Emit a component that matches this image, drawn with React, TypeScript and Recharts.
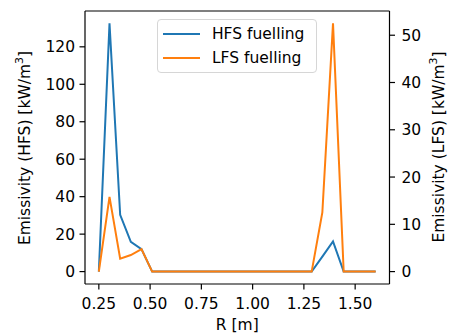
import React from 'react';
import { LineChart, Line, XAxis, YAxis, ReferenceLine } from 'recharts';

const R = [0.25, 0.302, 0.354, 0.406, 0.458, 0.51, 0.562, 0.613, 0.665, 0.717, 0.769, 0.821, 0.873, 0.925, 0.977, 1.029, 1.081, 1.133, 1.185, 1.237, 1.288, 1.34, 1.392, 1.444, 1.496, 1.548, 1.6];
const HFS = [0, 132.5, 30.3, 15.9, 12.0, 0, 0, 0, 0, 0, 0, 0, 0, 0, 0, 0, 0, 0, 0, 0, 0, 8.0, 16.1, 0, 0, 0, 0];
const LFS = [0, 15.8, 2.74, 3.5, 4.75, 0, 0, 0, 0, 0, 0, 0, 0, 0, 0, 0, 0, 0, 0, 0, 0, 12.5, 52.5, 0, 0, 0, 0];
const X_TICKS = [0.25, 0.5, 0.75, 1.0, 1.25, 1.5];
const LEFT_TICKS = [0, 20, 40, 60, 80, 100, 120];
const RIGHT_TICKS = [0, 10, 20, 30, 40, 50];
const SERIES = [
  { key: 'hfs', name: 'HFS fuelling', color: '#1f77b4', axis: 'left' },
  { key: 'lfs', name: 'LFS fuelling', color: '#ff7f0e', axis: 'right' },
];

const data = R.map((r, i) => ({ r, hfs: HFS[i], lfs: LFS[i] }));

const FONT = 'DejaVu Sans';
const FS = 15.5;
const LEFT_MAX = 139.125;

const tickStyle = { fill: '#000', fontSize: FS, fontFamily: FONT };

const YLabel = (x: number, y: number, txt: string) => (
  <text
    x={x}
    y={y}
    transform={`rotate(-90, ${x}, ${y})`}
    textAnchor="middle"
    dominantBaseline="central"
    fontFamily={FONT}
    fontSize={FS}
    fill="#000"
  >
    {txt}
    <tspan dy={-6} fontSize={11}>3</tspan>
    <tspan dy={6}>]</tspan>
  </text>
);

export default function App() {
  return (
    <div style={{ position: 'absolute', left: 0, top: 0, width: 451, height: 336, background: '#fff' }}>
      <LineChart width={451} height={336} data={data} margin={{ top: 11, right: 0, bottom: 0, left: 0 }}>
        <XAxis
          dataKey="r"
          type="number"
          domain={[0.1825, 1.6675]}
          ticks={X_TICKS}
          tickFormatter={(v: number) => v.toFixed(2)}
          allowDataOverflow
          height={52}
          stroke="#000"
          strokeWidth={1.2}
          tick={tickStyle}
          tickSize={5.5}
          tickMargin={8.5}
          label={{
            content: () => (
              <text x={237.3} y={325} textAnchor="middle" dominantBaseline="central" fontFamily={FONT} fontSize={FS} fill="#000">
                R [m]
              </text>
            ),
          }}
        />
        <YAxis
          yAxisId="left"
          type="number"
          domain={[-6.625, LEFT_MAX]}
          ticks={LEFT_TICKS}
          allowDataOverflow
          width={85}
          stroke="#000"
          strokeWidth={1.2}
          tick={tickStyle}
          tickSize={5.5}
          tickMargin={4.5}
          label={{ content: () => YLabel(24.7, 148, 'Emissivity (HFS) [kW/m') }}
        />
        <YAxis
          yAxisId="right"
          orientation="right"
          type="number"
          domain={[-2.625, 55.125]}
          ticks={RIGHT_TICKS}
          allowDataOverflow
          width={61.5}
          stroke="#000"
          strokeWidth={1.2}
          tick={tickStyle}
          tickSize={5.5}
          tickMargin={6.5}
          label={{ content: () => YLabel(439.3, 147, 'Emissivity (LFS) [kW/m') }}
        />
        <ReferenceLine yAxisId="left" y={LEFT_MAX} stroke="#000" strokeWidth={1.2} ifOverflow="visible" />
        {SERIES.map((s) => (
          <Line
            key={s.key}
            yAxisId={s.axis}
            type="linear"
            dataKey={s.key}
            name={s.name}
            stroke={s.color}
            strokeWidth={2}
            dot={false}
            isAnimationActive={false}
          />
        ))}
      </LineChart>
      <div
        style={{
          position: 'absolute',
          left: 156.7,
          top: 19.3,
          width: 160.6,
          height: 54,
          boxSizing: 'border-box',
          border: '1px solid #d6d6d6',
          borderRadius: 4,
          background: 'rgba(255,255,255,0.8)',
          fontFamily: FONT,
          fontSize: FS,
        }}
      >
        {SERIES.map((s, i) => (
          <div
            key={s.key}
            style={{
              position: 'absolute',
              left: 0,
              top: 3.4 + i * 24.6,
              height: 20,
              display: 'flex',
              alignItems: 'center',
              whiteSpace: 'nowrap',
            }}
          >
            <div style={{ marginLeft: 5.6, width: 37, height: 2, background: s.color }} />
            <span style={{ marginLeft: 11.7, lineHeight: '20px' }}>{s.name}</span>
          </div>
        ))}
      </div>
    </div>
  );
}
